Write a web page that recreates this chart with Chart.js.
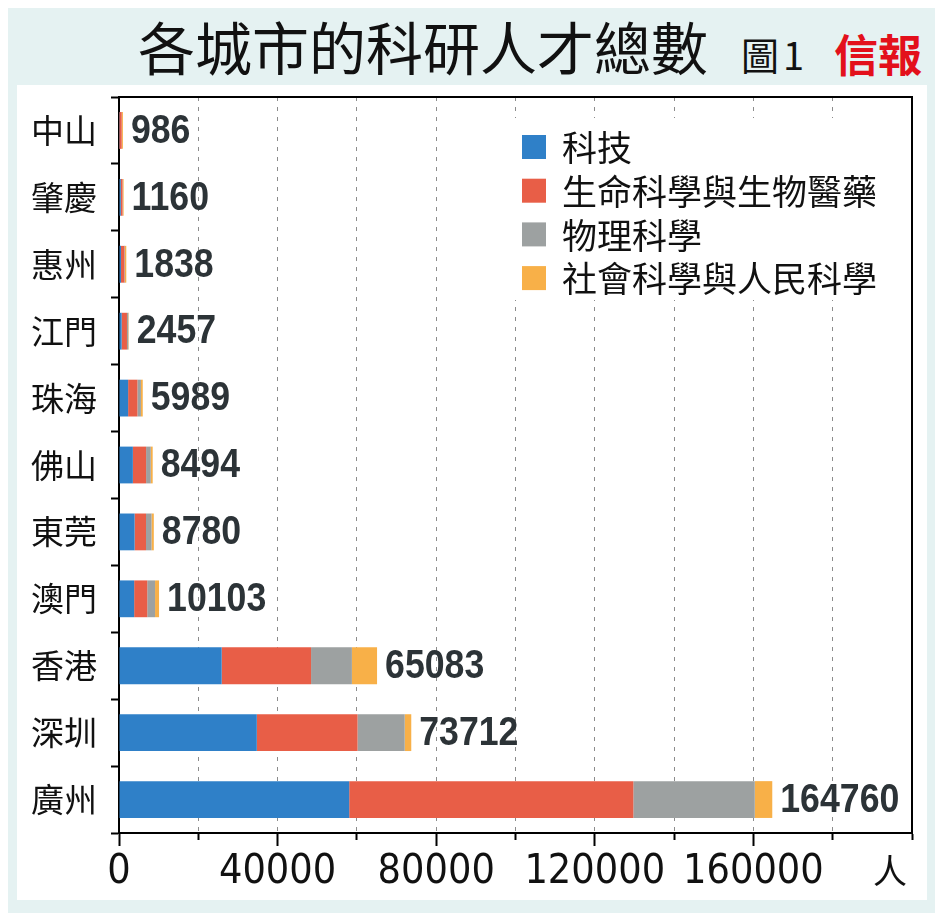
<!DOCTYPE html>
<html>
<head>
<meta charset="utf-8">
<script src="https://cdn.jsdelivr.net/npm/chart.js@4.4.0/dist/chart.umd.min.js"></script>
<style>
  body { margin: 0; background: #fff; width: 940px; height: 921px; overflow: hidden; position: relative; }
  #frame { position: absolute; left: 8px; top: 8px; width: 927px; height: 905px; background: #e5f2f2; }
  .t { position: absolute; white-space: nowrap; line-height: 1; font-family: "Noto Sans CJK TC", sans-serif; }
  #title { left: 138px; top: 17px; font-size: 57px; color: #111; }
  #fig { left: 741px; top: 35px; font-size: 38px; color: #111; letter-spacing: 4px; }
  #brand { left: 834px; top: 31px; font-size: 44px; color: #e3101b; font-weight: bold; }
  #panel { position: absolute; left: 17px; top: 85px; width: 910px; height: 815px; background: #fff; }
</style>
</head>
<body>
<div id="frame"></div>
<div class="t" id="title">各城市的科研人才總數</div>
<div class="t" id="fig">圖1</div>
<div class="t" id="brand">信報</div>
<div id="panel"><canvas id="myChart"></canvas></div>
<script>
var categories = ["中山", "肇慶", "惠州", "江門", "珠海", "佛山", "東莞", "澳門", "香港", "深圳", "廣州"];
var seriesNames = ["科技", "生命科學與生物醫藥", "物理科學", "社會科學與人民科學"];
var tech = [60, 450, 500, 670, 2300, 3500, 3940, 3820, 25900, 34760, 58060];
var life = [620, 450, 850, 1340, 2350, 3330, 2870, 3310, 22540, 25400, 71660];
var phys = [30, 60, 150, 330, 880, 1170, 1390, 1960, 10300, 11900, 30630];
var social = [276, 200, 338, 117, 459, 494, 580, 1013, 6343, 1652, 4410];
var xTickLabels = [0, 40000, 80000, 120000, 160000];
var unitLabel = "人";

var colors = ["#2f80c8", "#e85e47", "#9da1a1", "#f8b048"];
var cjk = "'Noto Sans CJK TC', sans-serif";

// totals shown at bar ends
var totals = categories.map(function (c, i) {
  return tech[i] + life[i] + phys[i] + social[i];
});

var legendBox = {
  id: "legendBox",
  afterDatasetsDraw: function (chart) {
    var ctx = chart.ctx;
    ctx.save();
    ctx.fillStyle = "#fff";
    ctx.fillRect(491, 33, 397, 182);
    ctx.font = "35px " + cjk;
    ctx.textBaseline = "middle";
    chart.data.datasets.forEach(function (ds, i) {
      var cy = 62 + i * 43.7;
      ctx.fillStyle = ds.backgroundColor;
      ctx.fillRect(505, cy - 12, 24, 24);
      ctx.fillStyle = "#111";
      ctx.fillText(ds.label, 545, cy + 1);
    });
    ctx.restore();
  },
};

var totalLabels = {
  id: "totalLabels",
  afterDatasetsDraw: function (chart) {
    var ctx = chart.ctx;
    var last = chart.getDatasetMeta(chart.data.datasets.length - 1);
    ctx.save();
    ctx.fillStyle = "#2c3337";
    ctx.font = "bold 41px 'Liberation Sans', Arial, sans-serif";
    ctx.textBaseline = "middle";
    last.data.forEach(function (bar, i) {
      ctx.save();
      ctx.translate(bar.x + 8, bar.y + 1);
      ctx.scale(0.87, 1);
      ctx.fillText(String(totals[i]), 0, 0);
      ctx.restore();
    });
    // unit after the x axis
    var xs = chart.scales.x;
    ctx.fillStyle = "#111";
    ctx.font = "34px " + cjk;
    ctx.textAlign = "center";
    ctx.fillText(unitLabel, 873, xs.top + 38);
    ctx.restore();
  },
};

var ctx = document.getElementById("myChart");
var myChart = new Chart(ctx, {
  type: "bar",
  data: {
    labels: categories,
    datasets: [tech, life, phys, social].map(function (values, i) {
      return {
        label: seriesNames[i],
        data: values,
        backgroundColor: colors[i],
        borderWidth: 0,
        barPercentage: 0.55,
        categoryPercentage: 1,
      };
    }),
  },
  options: {
    indexAxis: "y",
    responsive: true,
    maintainAspectRatio: false,
    animation: false,
    layout: { padding: { top: 12, right: 15, left: 0, bottom: 0 } },
    plugins: { legend: { display: false }, tooltip: { enabled: false } },
    scales: {
      x: {
        type: "linear",
        position: "bottom",
        stacked: true,
        min: 0,
        max: 200000,
        afterFit: function (s) { s.height = 67; },
        ticks: {
          stepSize: 20000,
          autoSkip: false,
          maxRotation: 0,
          padding: 2,
          color: "#111",
          font: { family: "'Liberation Sans Narrow', 'DejaVu Sans Condensed', sans-serif", size: 41 },
          callback: function (v) { return xTickLabels.indexOf(v) >= 0 ? String(v) : ""; },
        },
        grid: {
          color: function (c) {
            var v = c.tick && c.tick.value;
            return v === 0 || v === 200000 ? "rgba(0,0,0,0)" : "#8c8c8c";
          },
          lineWidth: 1,
          tickLength: 13,
          tickColor: "#000",
          tickWidth: 2,
          tickBorderDash: function (c) {
            var v = c.tick && c.tick.value;
            return xTickLabels.indexOf(v) >= 0 ? [] : [6, 60];
          },
        },
        border: { color: "#000", width: 2, dash: [4, 6] },
      },
      xTop: {
        type: "linear",
        position: "top",
        afterFit: function (s) { s.height = 0; },
        ticks: { display: false },
        grid: { display: false, drawTicks: false },
        border: { color: "#000", width: 2 },
      },
      y: {
        type: "category",
        position: "left",
        stacked: true,
        afterFit: function (s) {
          s.width = 102;
          s.paddingTop = 0;
          s.paddingBottom = 0;
        },
        ticks: { color: "#111", padding: 14, font: { family: cjk, size: 33 } },
        grid: { offset: true, drawOnChartArea: false, tickLength: 8, tickColor: "#000", tickWidth: 2 },
        border: { color: "#000", width: 2 },
      },
      yRight: {
        type: "category",
        position: "right",
        afterFit: function (s) {
          s.width = 0;
          s.paddingTop = 0;
          s.paddingBottom = 0;
        },
        ticks: { display: false },
        grid: { display: false, drawTicks: false },
        border: { color: "#000", width: 2 },
      },
    },
  },
  plugins: [legendBox, totalLabels],
});
</script>
</body>
</html>
